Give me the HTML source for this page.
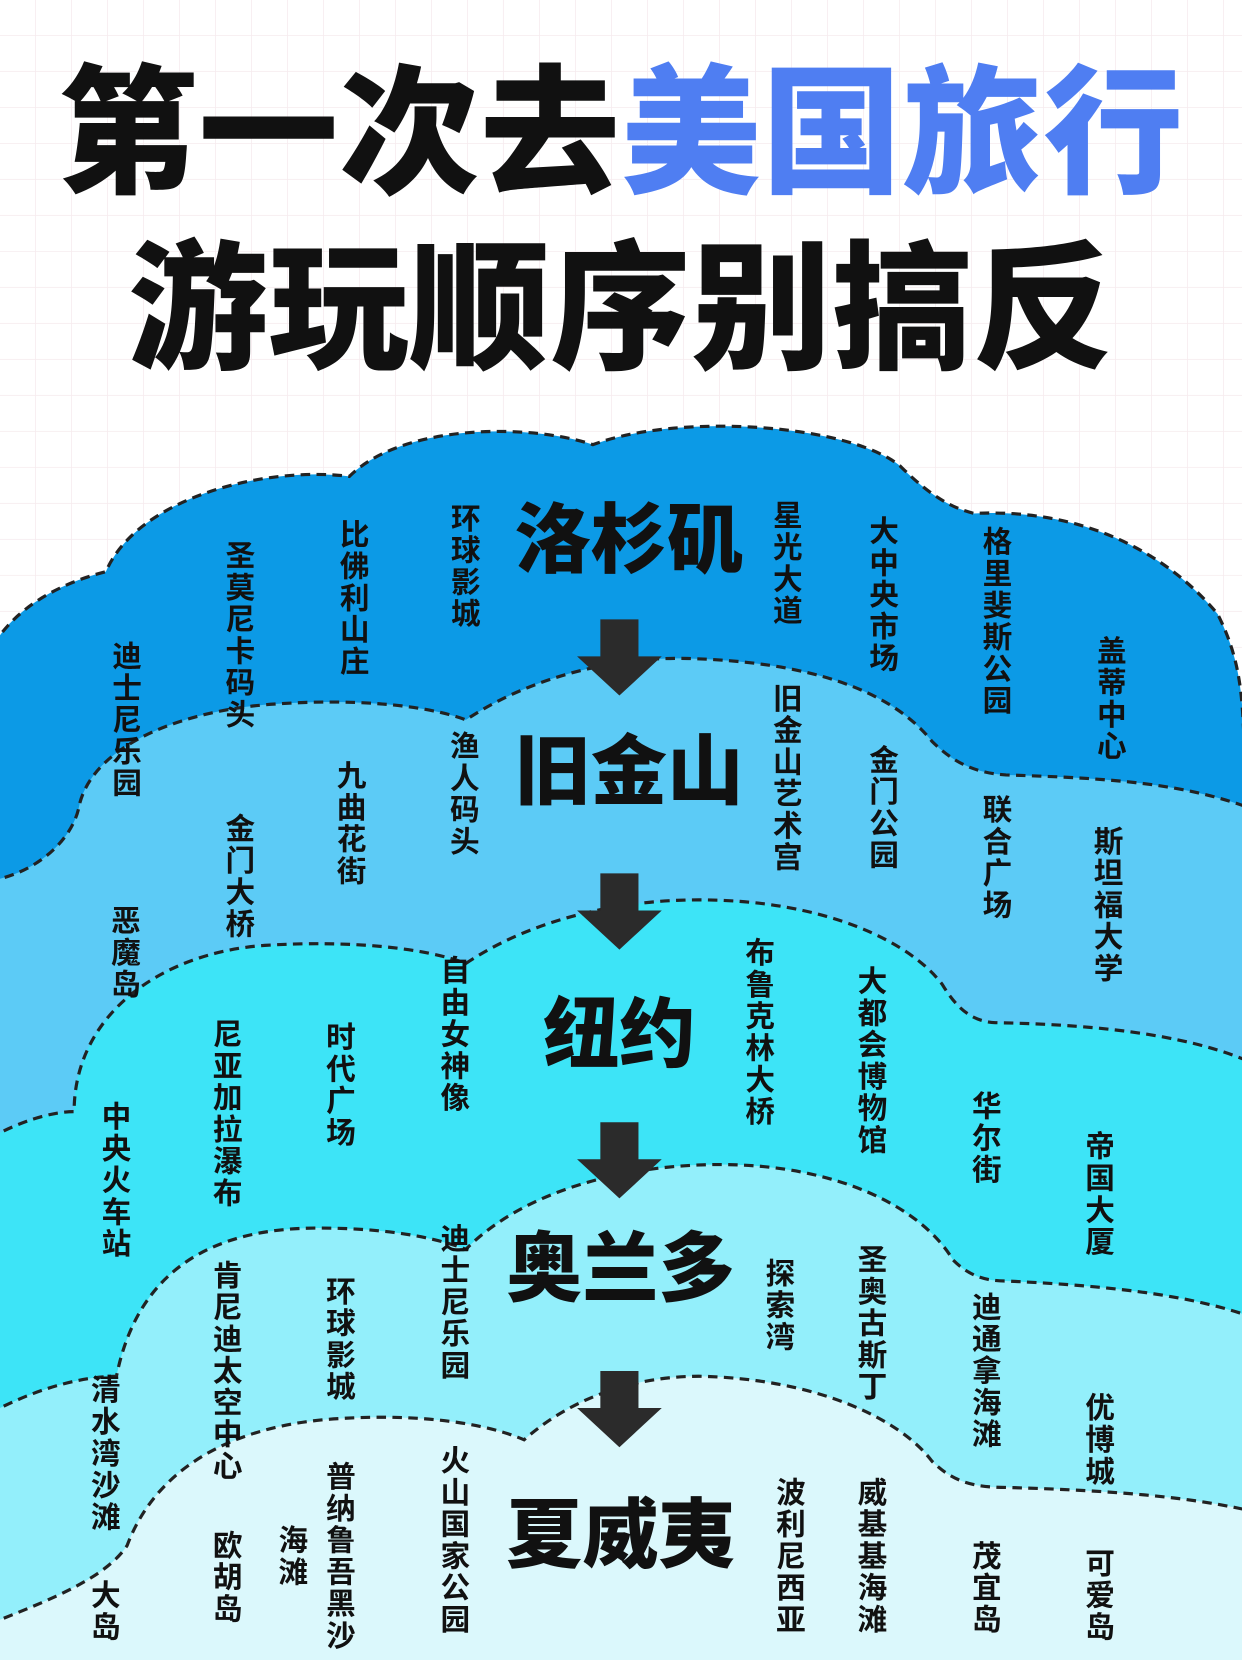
<!DOCTYPE html>
<html><head><meta charset="utf-8"><style>
html,body{margin:0;padding:0;width:1242px;height:1660px;overflow:hidden;background:#fff;}
#c{position:absolute;left:0;top:0;width:1173px;height:1568px;transform:scale(1.05882,1.05867);transform-origin:0 0;font-family:"Liberation Sans","Noto Sans CJK SC",sans-serif;overflow:hidden;}
svg{position:absolute;left:0;top:0;}
.t{position:absolute;left:0;width:1173px;text-align:center;font-weight:900;font-size:132px;line-height:1;letter-spacing:1px;}
.city{position:absolute;width:400px;margin-left:-200px;text-align:center;font-weight:900;font-size:72px;line-height:1;color:#111;}
.v{position:absolute;writing-mode:vertical-rl;font-weight:700;font-size:28px;line-height:1;letter-spacing:2px;color:#111;transform:translateX(-50%);}
</style></head><body><div id="c">
<svg width="1173" height="1568" viewBox="0 0 1173 1568">
<defs><pattern id="g" width="34" height="34" patternUnits="userSpaceOnUse"><path d="M34 0V34H0" fill="none" stroke="#f6ebee" stroke-width="1.5"/></pattern></defs>
<rect width="1173" height="1568" fill="url(#g)"/>
<g stroke="#222" stroke-width="3" stroke-dasharray="9 6">
<path fill="#0c9ae6" d="M-10,605 L0,600 C30,560 80,545 100,540 C130,470 250,440 330,450 C380,400 500,400 560,420 C640,390 800,400 850,440 C880,470 900,480 920,485 C1020,480 1100,520 1150,580 C1170,620 1173,650 1175,700 L1185,700 L1185,1590 L-10,1590 Z"/>
<path fill="#5ccbf6" d="M-10,833 L0,830 C40,820 70,790 75,760 C90,700 180,670 260,665 C330,660 400,665 440,680 C500,640 580,620 650,622 C760,625 840,650 880,700 C900,720 920,730 950,732 C1050,735 1120,740 1185,765 L1185,1590 L-10,1590 Z"/>
<path fill="#3de4f7" d="M-10,1075 L0,1070 C30,1055 55,1050 70,1050 C70,960 150,900 250,893 C330,888 400,895 440,910 C500,870 580,850 660,850 C780,850 860,890 890,930 C905,955 920,965 940,966 C1050,968 1130,980 1185,1005 L1185,1590 L-10,1590 Z"/>
<path fill="#93effb" d="M-10,1335 L0,1330 C40,1310 80,1300 110,1300 C130,1200 200,1160 300,1160 C350,1160 400,1165 440,1180 C500,1120 600,1100 680,1100 C790,1100 870,1140 900,1190 C915,1205 930,1210 950,1210 C1060,1215 1130,1225 1185,1245 L1185,1590 L-10,1590 Z"/>
<path fill="#dbf8fc" d="M-10,1535 L0,1530 C50,1510 100,1490 120,1460 C150,1380 230,1345 320,1340 C400,1335 460,1345 495,1360 C540,1320 600,1300 660,1300 C770,1302 850,1340 880,1380 C900,1400 920,1405 950,1405 C1060,1408 1130,1415 1185,1428 L1185,1590 L-10,1590 Z"/>
</g>
<g fill="#2b2b2b">
<path d="M567,585 H603 V620 H625 L585,657 L545,620 H567 Z"/>
<path d="M567,825 H603 V860 H625 L585,897 L545,860 H567 Z"/>
<path d="M567,1060 H603 V1095 H625 L585,1132 L545,1095 H567 Z"/>
<path d="M567,1295 H603 V1330 H625 L585,1367 L545,1330 H567 Z"/>
</g>
</svg>
<div class="t" style="top:61px;color:#111">第一次去<span style="color:#4f7ef2">美国旅行</span></div>
<div class="t" style="top:227px;color:#111">游玩顺序别搞反</div>
<div class="city" style="left:594px;top:475px">洛杉矶</div>
<div class="city" style="left:594px;top:694px">旧金山</div>
<div class="city" style="left:585px;top:942px">纽约</div>
<div class="city" style="left:586px;top:1163px">奥兰多</div>
<div class="city" style="left:586px;top:1415px">夏威夷</div>

<div class="v" style="left:118px;top:605px">迪士尼乐园</div>
<div class="v" style="left:225px;top:510px">圣莫尼卡码头</div>
<div class="v" style="left:333px;top:490px">比佛利山庄</div>
<div class="v" style="left:438px;top:475px">环球影城</div>
<div class="v" style="left:742px;top:472px">星光大道</div>
<div class="v" style="left:833px;top:487px">大中央市场</div>
<div class="v" style="left:940px;top:497px">格里斐斯公园</div>
<div class="v" style="left:1048px;top:600px">盖蒂中心</div>

<div class="v" style="left:117px;top:855px">恶魔岛</div>
<div class="v" style="left:225px;top:768px">金门大桥</div>
<div class="v" style="left:330px;top:718px">九曲花街</div>
<div class="v" style="left:437px;top:690px">渔人码头</div>
<div class="v" style="left:742px;top:645px">旧金山艺术宫</div>
<div class="v" style="left:833px;top:703px">金门公园</div>
<div class="v" style="left:940px;top:750px">联合广场</div>
<div class="v" style="left:1045px;top:780px">斯坦福大学</div>

<div class="v" style="left:108px;top:1040px">中央火车站</div>
<div class="v" style="left:213px;top:962px">尼亚加拉瀑布</div>
<div class="v" style="left:320px;top:965px">时代广场</div>
<div class="v" style="left:428px;top:902px">自由女神像</div>
<div class="v" style="left:716px;top:885px">布鲁克林大桥</div>
<div class="v" style="left:822px;top:912px">大都会博物馆</div>
<div class="v" style="left:930px;top:1030px">华尔街</div>
<div class="v" style="left:1037px;top:1068px">帝国大厦</div>

<div class="v" style="left:98px;top:1298px">清水湾沙滩</div>
<div class="v" style="left:213px;top:1190px">肯尼迪太空中心</div>
<div class="v" style="left:320px;top:1205px">环球影城</div>
<div class="v" style="left:428px;top:1155px">迪士尼乐园</div>
<div class="v" style="left:735px;top:1188px">探索湾</div>
<div class="v" style="left:822px;top:1175px">圣奥古斯丁</div>
<div class="v" style="left:930px;top:1220px">迪通拿海滩</div>
<div class="v" style="left:1037px;top:1315px">优博城</div>

<div class="v" style="left:98px;top:1492px">大岛</div>
<div class="v" style="left:213px;top:1445px">欧胡岛</div>
<div class="v" style="left:275px;top:1440px">海滩</div>
<div class="v" style="left:320px;top:1380px">普纳鲁吾黑沙</div>
<div class="v" style="left:428px;top:1365px">火山国家公园</div>
<div class="v" style="left:745px;top:1395px">波利尼西亚</div>
<div class="v" style="left:822px;top:1395px">威基基海滩</div>
<div class="v" style="left:930px;top:1455px">茂宜岛</div>
<div class="v" style="left:1037px;top:1462px">可爱岛</div>
</div></body></html>
